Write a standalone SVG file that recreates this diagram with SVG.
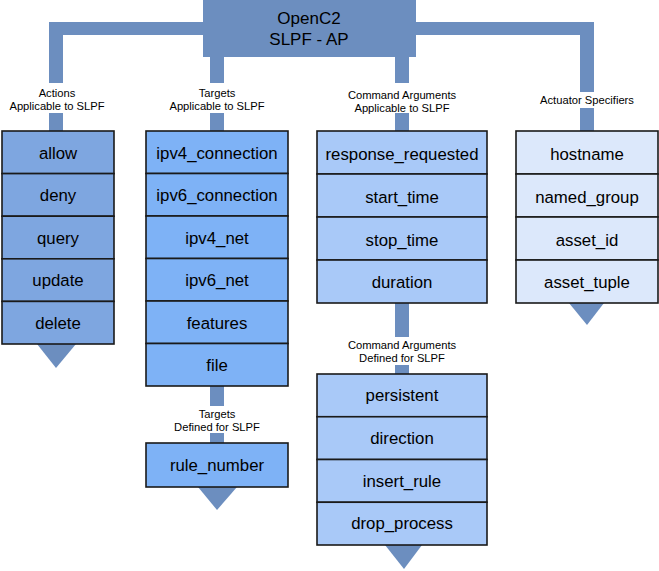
<svg xmlns="http://www.w3.org/2000/svg" width="659" height="571" viewBox="0 0 659 571">
<style>
text{font-family:"Liberation Sans",Arial,sans-serif;fill:#000;text-anchor:middle}
.item{font-size:16.8px}
.lbl{font-size:11.2px}
.title{font-size:17px}
.bar{fill:#6c8ebf}
.c1{fill:#7ea6e0;stroke:#1a1a1a;stroke-width:1.6}
.c2{fill:#7eb2f6;stroke:#1a1a1a;stroke-width:1.6}
.c3{fill:#a9c9f8;stroke:#1a1a1a;stroke-width:1.6}
.c4{fill:#dce8fb;stroke:#1a1a1a;stroke-width:1.6}
.lb{fill:#fff}
</style>
<rect width="659" height="571" fill="#fff"/>
<g id="connectors">
<rect class="bar" x="49" y="22" width="545" height="13"/>
<rect class="bar" x="49" y="22" width="14" height="109"/>
<rect class="bar" x="210" y="57" width="14" height="74"/>
<rect class="bar" x="395" y="57" width="14" height="74"/>
<rect class="bar" x="580" y="22" width="14" height="109"/>
<rect class="bar" x="395" y="303" width="14" height="71"/>
<rect class="bar" x="210" y="386" width="14" height="57"/>
<polygon class="bar" points="37,344 76,344 56,368"/>
<polygon class="bar" points="569,303 604,303 587,325"/>
<polygon class="bar" points="198,487 237,487 217,510"/>
<polygon class="bar" points="385,545 422,545 404,569"/>
<rect class="lb" x="2" y="83" width="112" height="30"/>
<text class="lbl" x="57" y="97">Actions</text>
<text class="lbl" x="57" y="110">Applicable to SLPF</text>
<rect class="lb" x="160" y="83" width="114" height="30"/>
<text class="lbl" x="217" y="97">Targets</text>
<text class="lbl" x="217" y="110">Applicable to SLPF</text>
<rect class="lb" x="345" y="83" width="114" height="30"/>
<text class="lbl" x="402" y="99">Command Arguments</text>
<text class="lbl" x="402" y="112">Applicable to SLPF</text>
<rect class="lb" x="538" y="92" width="98" height="16"/>
<text class="lbl" x="587" y="104">Actuator Specifiers</text>
<rect class="lb" x="345" y="337" width="114" height="28"/>
<text class="lbl" x="402" y="349">Command Arguments</text>
<text class="lbl" x="402" y="362">Defined for SLPF</text>
<rect class="lb" x="170" y="406" width="94" height="27"/>
<text class="lbl" x="217" y="418">Targets</text>
<text class="lbl" x="217" y="431">Defined for SLPF</text>
</g>
<g id="root">
<rect class="bar" x="203" y="0" width="213" height="57"/>
<text class="title" x="309" y="24">OpenC2</text>
<text class="title" x="309" y="45">SLPF - AP</text>
</g>
<g id="actions">
<rect class="c1" x="2" y="131" width="112" height="42.6"/>
<rect class="c1" x="2" y="173.6" width="112" height="42.6"/>
<rect class="c1" x="2" y="216.2" width="112" height="42.6"/>
<rect class="c1" x="2" y="258.8" width="112" height="42.6"/>
<rect class="c1" x="2" y="301.4" width="112" height="42.6"/>
<text class="item" x="58" y="159">allow</text>
<text class="item" x="58" y="201">deny</text>
<text class="item" x="58" y="244">query</text>
<text class="item" x="58" y="286">update</text>
<text class="item" x="58" y="329">delete</text>
</g>
<g id="targets">
<rect class="c2" x="146" y="131" width="142" height="42.5"/>
<rect class="c2" x="146" y="173.5" width="142" height="42.5"/>
<rect class="c2" x="146" y="216" width="142" height="42.5"/>
<rect class="c2" x="146" y="258.5" width="142" height="42.5"/>
<rect class="c2" x="146" y="301" width="142" height="42.5"/>
<rect class="c2" x="146" y="343.5" width="142" height="42.5"/>
<text class="item" x="217" y="159">ipv4_connection</text>
<text class="item" x="217" y="201">ipv6_connection</text>
<text class="item" x="217" y="244">ipv4_net</text>
<text class="item" x="217" y="286">ipv6_net</text>
<text class="item" x="217" y="329">features</text>
<text class="item" x="217" y="371">file</text>
</g>
<g id="targets-defined">
<rect class="c2" x="146" y="443" width="142" height="44"/>
<text class="item" x="217" y="471">rule_number</text>
</g>
<g id="command-args">
<rect class="c3" x="317" y="131" width="170" height="43"/>
<rect class="c3" x="317" y="174" width="170" height="43"/>
<rect class="c3" x="317" y="217" width="170" height="43"/>
<rect class="c3" x="317" y="260" width="170" height="43"/>
<text class="item" x="402" y="160">response_requested</text>
<text class="item" x="402" y="203">start_time</text>
<text class="item" x="402" y="246">stop_time</text>
<text class="item" x="402" y="288">duration</text>
</g>
<g id="command-args-defined">
<rect class="c3" x="317" y="374" width="170" height="42.75"/>
<rect class="c3" x="317" y="416.75" width="170" height="42.75"/>
<rect class="c3" x="317" y="459.5" width="170" height="42.75"/>
<rect class="c3" x="317" y="502.25" width="170" height="42.75"/>
<text class="item" x="402" y="401">persistent</text>
<text class="item" x="402" y="444">direction</text>
<text class="item" x="402" y="487">insert_rule</text>
<text class="item" x="402" y="529">drop_process</text>
</g>
<g id="actuator">
<rect class="c4" x="516" y="131" width="142" height="43"/>
<rect class="c4" x="516" y="174" width="142" height="43"/>
<rect class="c4" x="516" y="217" width="142" height="43"/>
<rect class="c4" x="516" y="260" width="142" height="43"/>
<text class="item" x="587" y="160">hostname</text>
<text class="item" x="587" y="203">named_group</text>
<text class="item" x="587" y="246">asset_id</text>
<text class="item" x="587" y="288">asset_tuple</text>
</g>
</svg>
